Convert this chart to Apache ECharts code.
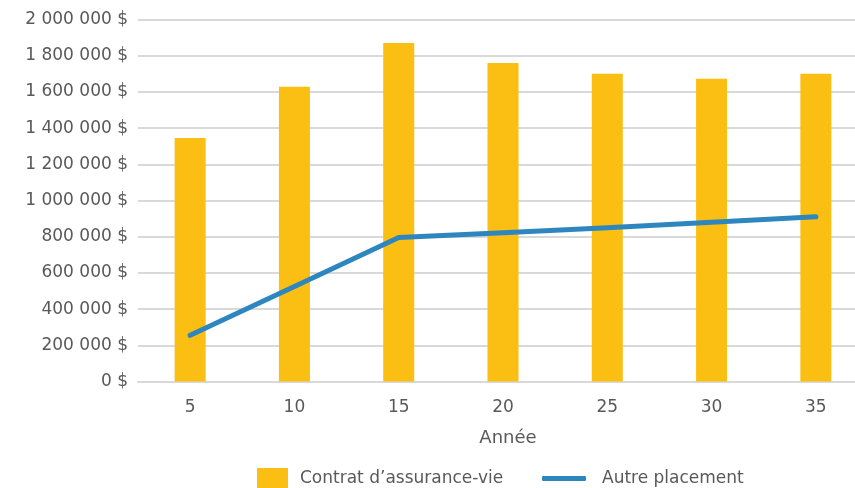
<!DOCTYPE html>
<html>
<head>
<meta charset="utf-8">
<script src="https://cdn.jsdelivr.net/npm/echarts@6/dist/echarts.min.js"></script>
<style>
	html, body { margin: 0; padding: 0; background: #fff; }
	#chart { width: 855px; height: 488px; }
</style>
</head>
<body>
<div id="chart"></div>
<script>
//données
var years = ['5', '10', '15', '20', '25', '30', '35'];
var contratValues = [1345000, 1628000, 1870000, 1760000, 1700000, 1672000, 1700000];
var autreValues = [255000, 525000, 795000, 822000, 850000, 880000, 910000];
var yTicks = [0, 200000, 400000, 600000, 800000, 1000000, 1200000, 1400000, 1600000, 1800000, 2000000];

var textColor = '#595959';
var fontName = 'DejaVu Sans';

//format "1 800 000 $"
function money(v) {
	return String(v).replace(/\B(?=(\d{3})+(?!\d))/g, ' ') + ' $';
}

var chart = echarts.init(document.getElementById('chart'), null, { renderer: 'canvas' });

var option = {
	animation: false,
	textStyle: { fontFamily: fontName, color: textColor },
	grid: {
		left: 138,
		top: 19.5,
		width: 730,
		height: 362,
		outerBoundsMode: 'none'
	},
	legend: [{
		data: ['Contrat d’assurance-vie'],
		left: 257,
		top: 468,
		padding: 0,
		icon: 'rect',
		itemWidth: 31,
		itemHeight: 21,
		textStyle: { fontSize: 17, color: textColor, fontFamily: fontName, padding: [5, 0, 0, 7] }
	}, {
		data: ['Autre placement'],
		left: 542,
		top: 470,
		padding: 0,
		icon: 'roundRect',
		itemWidth: 44,
		itemHeight: 5,
		textStyle: { fontSize: 17, color: textColor, fontFamily: fontName, padding: [3, 0, 0, 11] }
	}],
	xAxis: {
		type: 'category',
		data: years,
		name: 'Année',
		nameLocation: 'middle',
		nameGap: 48,
		nameTextStyle: { fontSize: 18, color: textColor, fontFamily: fontName, padding: [0, 0, 0, 10] },
		axisTick: { show: false },
		axisLine: { lineStyle: { color: '#d9d9d9', width: 2 } },
		axisLabel: { margin: 18, fontSize: 17, color: textColor, fontFamily: fontName }
	},
	yAxis: {
		type: 'value',
		min: yTicks[0],
		max: yTicks[yTicks.length - 1],
		interval: yTicks[1] - yTicks[0],
		axisLine: { show: false },
		axisTick: { show: false },
		splitLine: { lineStyle: { color: '#d9d9d9', width: 2 } },
		axisLabel: {
			margin: 10,
			fontSize: 17,
			color: textColor,
			fontFamily: fontName,
			formatter: money
		}
	},
	series: [{
		name: 'Contrat d’assurance-vie',
		type: 'bar',
		data: contratValues,
		barWidth: 31,
		itemStyle: { color: '#fbbe12' }
	}, {
		name: 'Autre placement',
		type: 'line',
		data: autreValues,
		color: '#2e86be',
		showSymbol: false,
		symbol: 'none',
		lineStyle: { color: '#2e86be', width: 5, cap: 'round', join: 'round' }
	}]
};

chart.setOption(option);
</script>
</body>
</html>
